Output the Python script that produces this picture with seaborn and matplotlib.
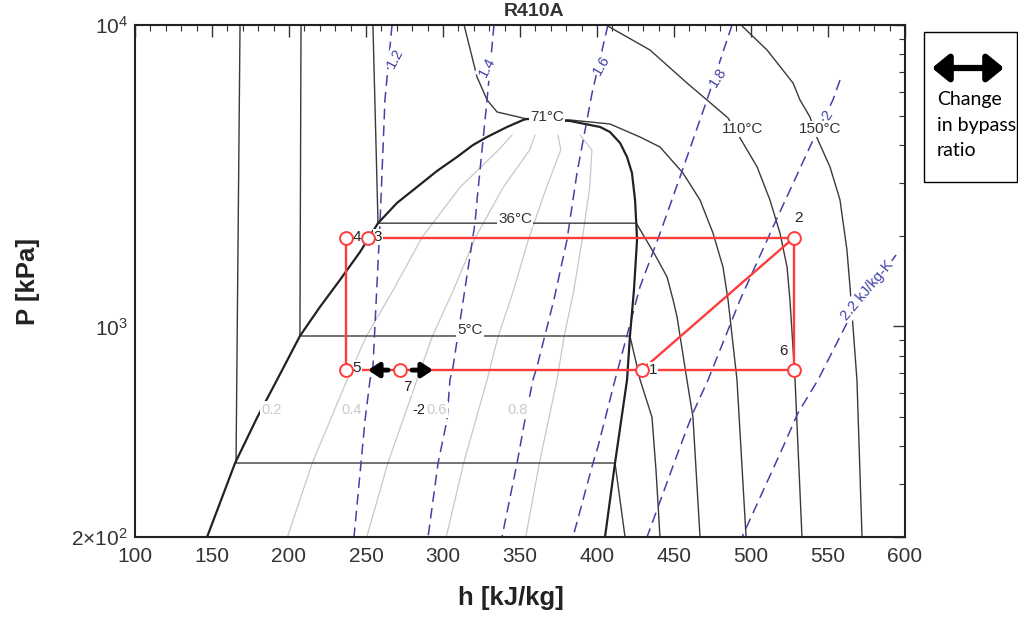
import matplotlib
matplotlib.use("Agg")
import matplotlib.pyplot as plt
import seaborn as sns
from matplotlib.patches import Rectangle
from matplotlib.ticker import FixedLocator, MultipleLocator, NullFormatter

out_file = "out.png"

# saturation dome (h in kJ/kg, P in kPa)
liq_h = [146.8, 165.0, 179.2, 192.2, 207.1, 220.1, 233.1, 246.1, 257.8, 270.1, 283.1, 296.1,
         309.1, 319.5, 328.6, 341.6, 352.0, 354.5]
liq_p = [200, 352, 497, 664, 929, 1160, 1426, 1765, 2200, 2567, 2900, 3278,
         3648, 3998, 4250, 4588, 4840, 4877]
vap_h = [354.5, 382.5, 402.0, 408.4, 415.0, 419.5, 422.7, 424.7, 425.5, 426.0, 424.0, 421.4,
         419.5, 411.7, 405.2]
vap_p = [4877, 4803, 4588, 4416, 4059, 3648, 3228, 2626, 2200, 1934, 1321, 929,
         664, 352, 200]

# isotherms
tm20_h = [168.2, 165.6, 411.7, 418.2]
tm20_p = [10000, 352, 352, 200]
t5_h = [207.8, 207.1, 421.4, 428.0, 435.7, 438.3, 440.9]
t5_p = [10000, 929, 929, 664, 500, 334, 200]
t36_h = [254.5, 257.8, 425.5, 437.7, 445.5, 449.4, 452.0, 458.4, 462.3, 466.9]
t36_p = [10000, 2200, 2200, 1726, 1458, 1224, 1074, 664, 500, 200]
t71_h = [313.7, 322.1, 328.6, 335.1, 354.5, 382.5, 408.4, 427.9, 440.9, 455.8, 466.9, 475.3,
         481.8, 485.1, 490.9, 496.8]
t71_p = [10000, 6722, 5640, 5145, 4877, 4840, 4694, 4250, 3937, 3228, 2626, 2041,
         1574, 1224, 664, 200]
t110_h = [405.8, 434.4, 458.4, 471.4, 485.1, 492.9, 504.0, 512.3, 518.8, 523.4, 525.3, 528.6, 533.1]
t110_p = [10000, 8262, 6421, 5640, 4914, 4217, 3379, 2626, 2041, 1574, 1224, 664, 200]
t150_h = [493.5, 510.4, 527.3, 531.8, 538.3, 542.9, 551.3, 557.8, 562.3, 564.3, 568.8, 572.1]
t150_p = [10000, 8262, 6421, 5640, 4952, 4217, 3379, 2626, 1793, 1351, 664, 200]

# constant quality lines
q_p = [200, 352, 664, 922, 1321, 1975, 2900, 3850, 4315]
q02_h = [199.0, 215.1, 237.7, 250.0, 267.7, 286.4, 311.2, 336.1, 344.8]
q04_h = [250.5, 264.2, 283.1, 292.9, 306.8, 321.1, 339.2, 356.3, 359.8]
q06_h = [302.1, 313.4, 328.6, 335.7, 345.9, 355.9, 367.3, 376.5, 374.7]
q08_h = [353.7, 362.6, 374.0, 378.6, 385.0, 390.6, 395.3, 396.7, 389.0]

# isentropes (kJ/kg-K)
s12_h = [266.9, 262.3, 259.1, 254.5, 252.6, 249.4, 242.2]
s12_p = [10000, 5640, 2203, 733, 664, 489, 200]
s14_h = [333.1, 328.6, 322.1, 320.8, 306.5, 304.5, 302.6, 296.8, 290.3]
s14_p = [10000, 5640, 2626, 2203, 733, 664, 489, 352, 200]
s16_h = [407.1, 396.8, 387.0, 380.5, 372.0, 361.0, 358.4, 353.2, 350.0, 348.1, 338.3]
s16_p = [10000, 5950, 3228, 1934, 1224, 733, 664, 489, 398, 352, 200]
s18_h = [487.7, 471.4, 453.9, 441.0, 427.9, 411.7, 400.6, 397.4, 384.4]
s18_p = [10000, 5640, 3130, 2041, 1351, 664, 398, 352, 200]
s20_h = [557.8, 553.2, 540.3, 514.3, 492.9, 472.1, 462.3, 453.9, 432.5]
s20_p = [6568, 5640, 4153, 2137, 1224, 664, 516, 398, 200]
s22_h = [594.2, 564.3, 543.5, 530.5, 520.8, 494.2]
s22_p = [1726, 1074, 664, 516, 398, 200]

# cycle state points
cyc_lab = ["1", "2", "3", "4", "5", "6", "7"]
cyc_h = [429.0, 527.9, 251.3, 237.0, 237.0, 527.9, 272.1]
cyc_p = [716, 1970, 1970, 1970, 716, 716, 716]

# bypass arrows along the low pressure line
arr_tail_h = [264.3, 279.9]
arr_head_h = [251.3, 293.5]

x_ticks = [100, 150, 200, 250, 300, 350, 400, 450, 500, 550, 600]
y_ticks = [200, 1000, 10000]
y_ticklabels = [r"$2{\times}10^{2}$", r"$10^{3}$", r"$10^{4}$"]

RED = "#ff3b3b"
BLUE = "#4242a6"


def line(ax, h, p, **kw):
    sns.lineplot(x=h, y=p, sort=False, estimator=None, legend=False, ax=ax, **kw)


def plot_chart():
    sns.set_style("white")
    plt.rcParams["font.family"] = ["Liberation Sans", "DejaVu Sans"]
    plt.rcParams["mathtext.fontset"] = "custom"
    plt.rcParams["mathtext.rm"] = "Liberation Sans"
    plt.rcParams["mathtext.it"] = "Liberation Sans"

    fig = plt.figure(figsize=(10.18, 6.17), dpi=100)
    ax = fig.add_axes([135 / 1018, 1 - 537 / 617, 770 / 1018, 512 / 617])
    ax.set_yscale("log")

    # quality lines
    for qh in [q02_h, q04_h, q06_h, q08_h]:
        line(ax, qh, q_p, color="#c8c8c8", linewidth=0.9, zorder=1)

    # isotherms
    for th, tp in [(tm20_h, tm20_p), (t5_h, t5_p), (t36_h, t36_p),
                   (t71_h, t71_p), (t110_h, t110_p), (t150_h, t150_p)]:
        line(ax, th, tp, color="#3a3a3a", linewidth=1.0, zorder=2)

    # isentropes
    for sh, sp in [(s12_h, s12_p), (s14_h, s14_p), (s16_h, s16_p),
                   (s18_h, s18_p), (s20_h, s20_p), (s22_h, s22_p)]:
        line(ax, sh, sp, color=BLUE, linewidth=1.1, linestyle=(0, (7, 4)), zorder=2)

    # dome
    line(ax, liq_h, liq_p, color="#222222", linewidth=1.6, zorder=3)
    line(ax, vap_h, vap_p, color="#222222", linewidth=1.6, zorder=3)

    lab_box = dict(facecolor="white", edgecolor="none", pad=1.0)
    for txt, h, p in [("71°C", 367.5, 4952), ("110°C", 494.8, 4519), ("150°C", 544.8, 4519),
                      ("36°C", 346.8, 2271), ("5°C", 317.5, 973)]:
        ax.text(h, p, txt, fontsize=11, color="#333333", ha="center", va="center",
                bbox=lab_box, zorder=4)

    ax.text(280.0, 528, "-2", fontsize=10.5, color="#222222", ha="left", va="center", zorder=4)
    for txt, h in [("0.2", 189.0), ("0.4", 240.9), ("0.6", 295.5), ("0.8", 348.7)]:
        ax.text(h, 528, txt, fontsize=10.5, color="#cacaca", ha="center", va="center",
                bbox=lab_box, zorder=4.5)

    for txt, h, p, rot in [("1.2", 268.8, 7773, 62), ("1.4", 328.6, 7254, 62),
                           ("1.6", 403.2, 7366, 60), ("1.8", 478.6, 6722, 57),
                           ("2", 549.4, 5028, 55), ("2.2 kJ/kg-K", 575.4, 1321, 50)]:
        ax.text(h, p, txt, fontsize=10.5, color=BLUE, ha="center", va="center",
                rotation=rot, rotation_mode="anchor", bbox=lab_box, zorder=4)

    # refrigeration cycle
    loop = [3, 4, 5, 1, 2]
    line(ax, [cyc_h[i] for i in loop], [cyc_p[i] for i in loop],
         color=RED, linewidth=1.7, zorder=5)
    line(ax, [cyc_h[0], cyc_h[1]], [cyc_p[0], cyc_p[1]], color=RED, linewidth=1.7, zorder=5)

    offsets = {"1": (8, 0), "2": (3, 14), "3": (7, 0.5), "4": (8, 0.5),
               "5": (8, 1.5), "6": (-7.5, 14), "7": (5, -12)}
    for lab, h, p in zip(cyc_lab, cyc_h, cyc_p):
        ax.annotate(lab, (h, p), xytext=offsets[lab], textcoords="offset points",
                    fontsize=11, color="#222222", ha="center", va="center",
                    bbox=dict(facecolor="white", edgecolor="none", pad=0.6), zorder=6)

    for t, hd in zip(arr_tail_h, arr_head_h):
        ax.annotate("", xy=(hd, cyc_p[6]), xytext=(t, cyc_p[6]),
                    arrowprops=dict(arrowstyle="-|>,head_length=0.45,head_width=0.3",
                                    lw=3.5, color="black", shrinkA=0, shrinkB=0,
                                    mutation_scale=14), zorder=6.5)

    sns.scatterplot(x=cyc_h, y=cyc_p, marker="o", s=85, color="white", edgecolor=RED,
                    linewidth=1.4, legend=False, zorder=7, ax=ax)

    # axes
    ax.set_xlim(100, 600)
    ax.set_ylim(200, 10000)
    ax.xaxis.set_major_locator(FixedLocator(x_ticks))
    ax.xaxis.set_minor_locator(MultipleLocator(10))
    ax.set_xticklabels([str(v) for v in x_ticks])
    ax.yaxis.set_major_locator(FixedLocator(y_ticks))
    ax.set_yticklabels(y_ticklabels)
    ax.yaxis.set_minor_locator(FixedLocator([300, 400, 500, 600, 700, 800, 900,
                                             2000, 3000, 4000, 5000, 6000, 7000, 8000, 9000]))
    ax.yaxis.set_minor_formatter(NullFormatter())
    ax.tick_params(which="both", direction="in", top=True, right=True,
                   colors="#333333", labelsize=15)
    ax.tick_params(which="major", length=8.5, width=1.0, pad=7)
    ax.tick_params(which="minor", length=4.5, width=0.8)
    ax.tick_params(axis="y", pad=5)
    for sp in ax.spines.values():
        sp.set_linewidth(1.5)
        sp.set_color("#222222")

    ax.set_xlabel("h [kJ/kg]", fontsize=18.5, fontweight="bold", color="#222222")
    ax.set_ylabel("P [kPa]", fontsize=18.5, fontweight="bold", color="#222222")
    ax.xaxis.set_label_coords(0.488, -0.095)
    ax.yaxis.set_label_coords(-0.123, 0.50)

    fig.text(534 / 1018, 1 - 11 / 617, "R410A", ha="center", va="center",
             fontsize=14, fontweight="bold", color="#333333")

    # side note box
    fig.add_artist(Rectangle((924 / 1018, 1 - 182 / 617), 93 / 1018, 150 / 617,
                             transform=fig.transFigure, fill=False, ec="black", lw=1.0))
    ax.annotate("", xy=(1004 / 1018, 1 - 68 / 617), xytext=(932 / 1018, 1 - 68 / 617),
                xycoords="figure fraction", textcoords="figure fraction",
                arrowprops=dict(arrowstyle="<|-|>,head_length=0.55,head_width=0.45",
                                lw=4.5, color="black", shrinkA=0, shrinkB=0,
                                mutation_scale=18),
                annotation_clip=False)
    fig.text(937 / 1018, 1 - 91 / 617, "Change\nin bypass\nratio", ha="left", va="top",
             fontsize=14, family=["Lato", "DejaVu Sans"], linespacing=1.62, color="black")

    plt.savefig(out_file, dpi=100)


plot_chart()
